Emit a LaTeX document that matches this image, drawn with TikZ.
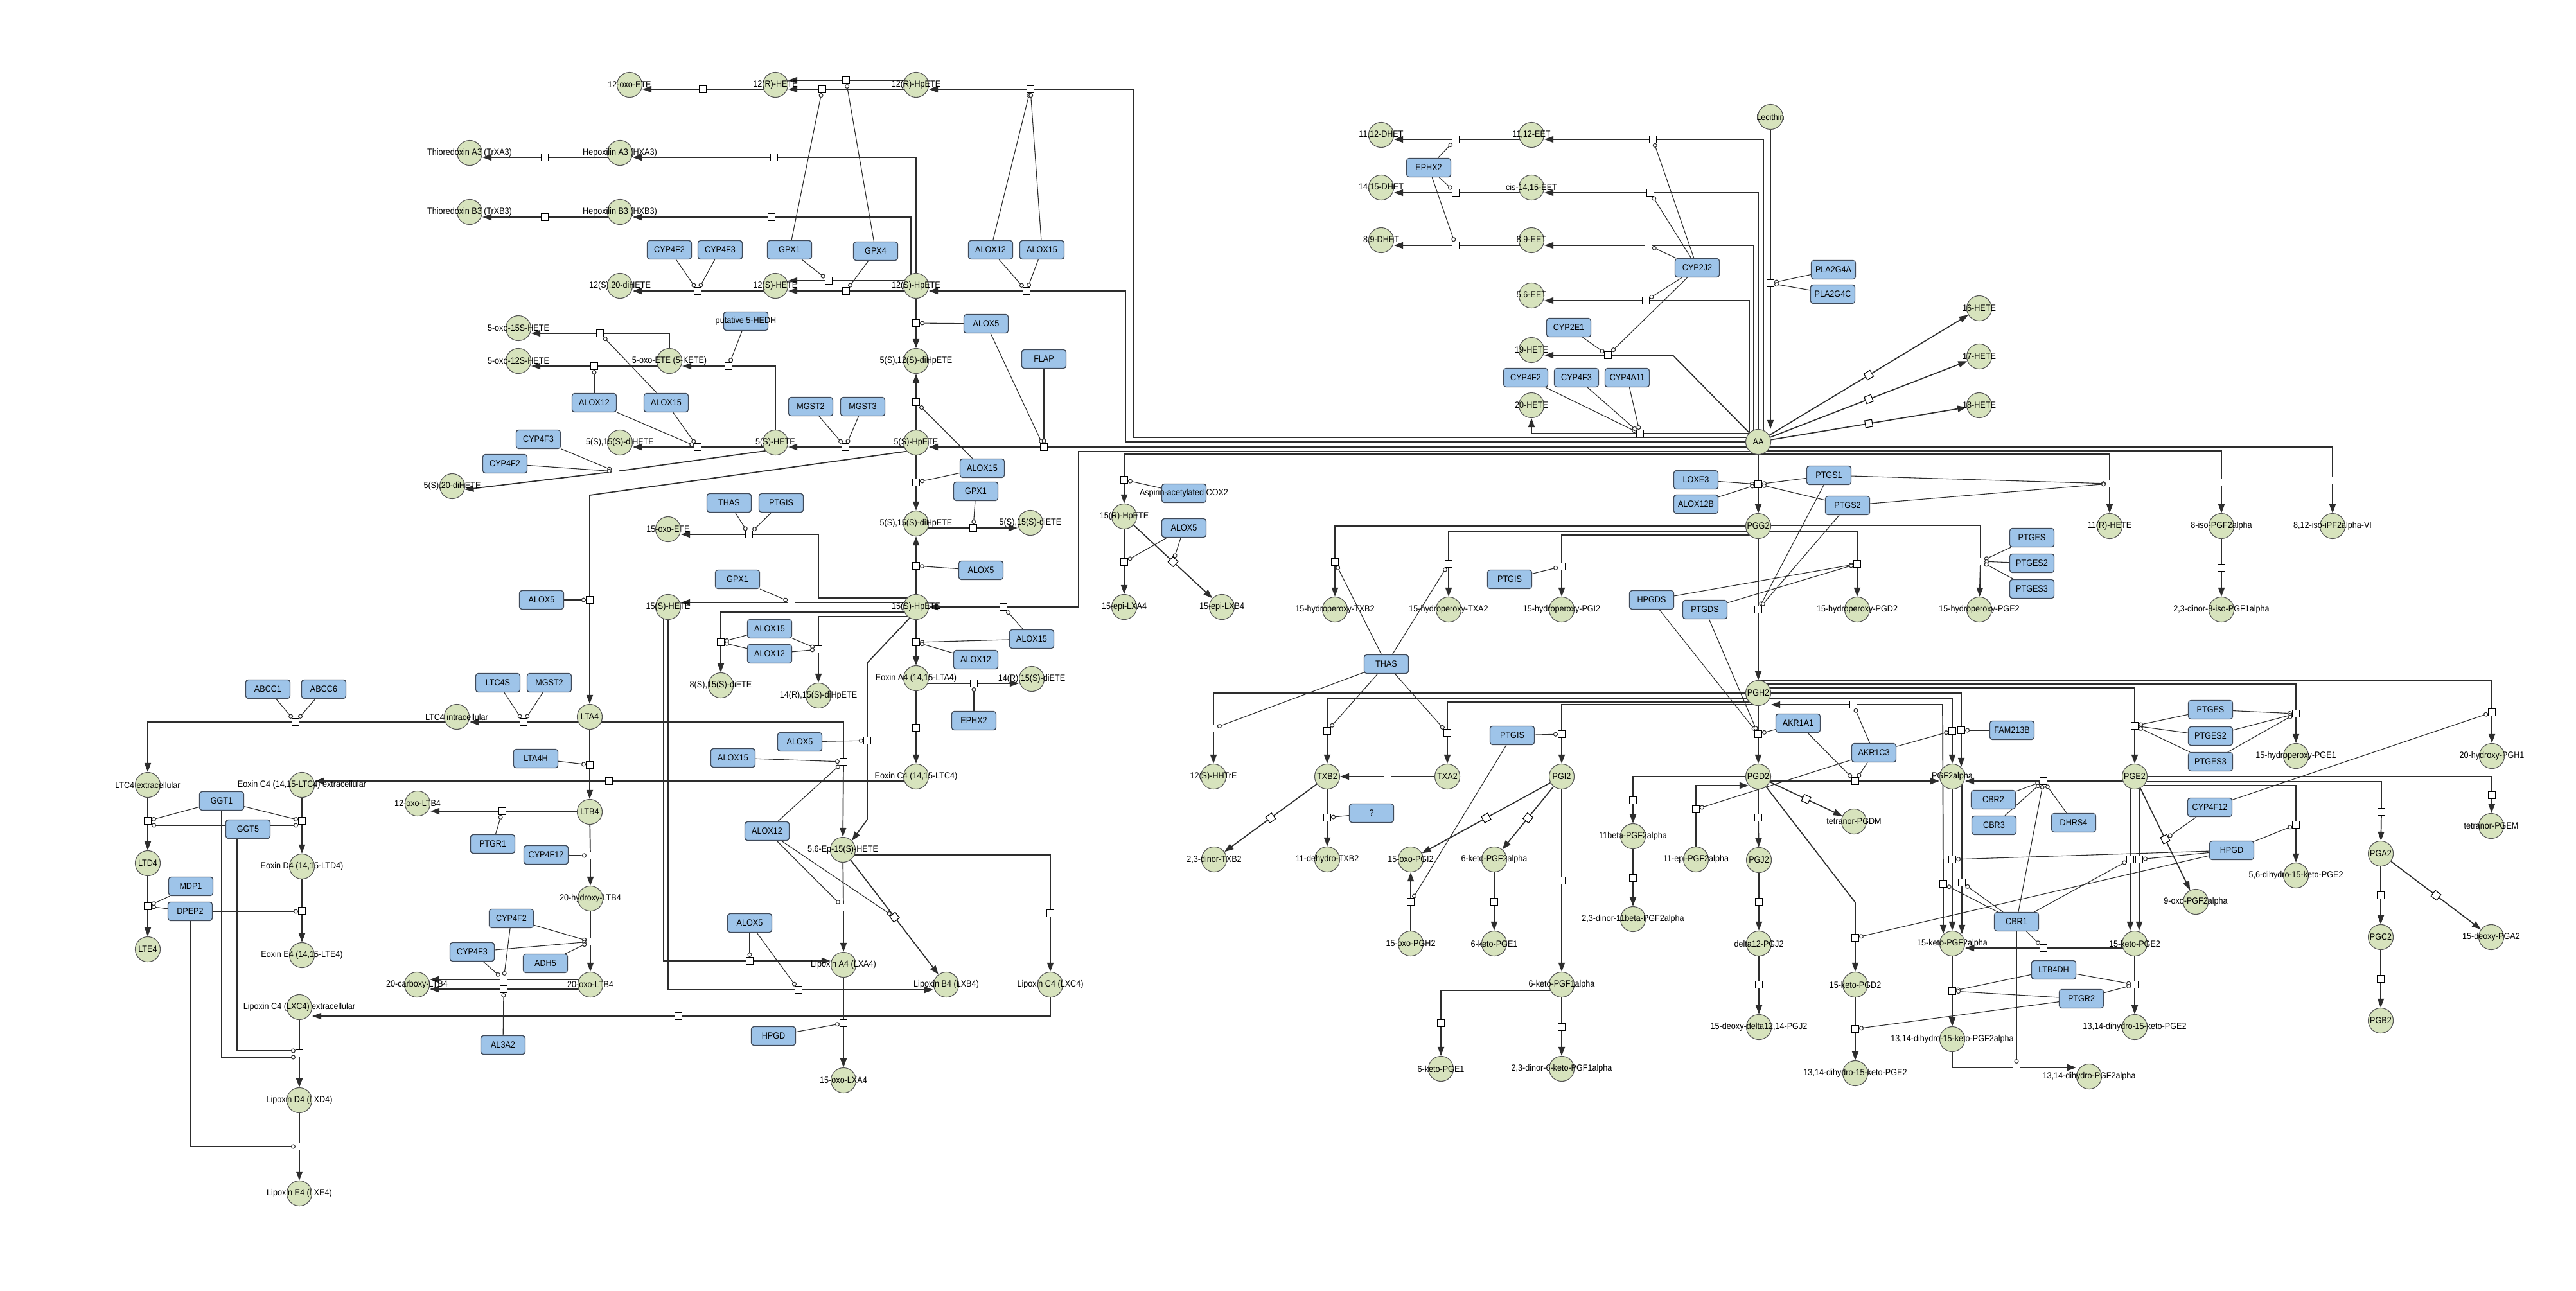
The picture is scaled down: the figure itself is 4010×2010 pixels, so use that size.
\documentclass[tikz,border=0pt]{standalone}
\usepackage{fontspec}
\setmainfont[FakeStretch=0.9]{Liberation Sans}
\usetikzlibrary{arrows.meta,backgrounds}
\pgfdeclarelayer{fg}
\pgfsetlayers{background,main,fg}

\definecolor{metfill}{RGB}{215,227,189}
\definecolor{metline}{RGB}{85,85,85}
\definecolor{enzfill}{RGB}{158,196,233}
\definecolor{enzline}{RGB}{65,75,90}
\definecolor{wire}{RGB}{45,45,45}

\tikzset{
  met/.style={circle, draw=metline, line width=1.1pt, fill=metfill, minimum size=39pt, inner sep=0pt},
  enz/.style={rectangle, rounded corners=4pt, draw=enzline, line width=1.3pt, fill=enzfill, minimum width=69pt, minimum height=29pt, inner sep=0pt},
  lab/.style={inner sep=0pt, font=\fontsize{14}{16}\selectfont, text=black},
  sq/.style={rectangle, draw=black, line width=1.1pt, fill=white, minimum size=11pt, inner sep=0pt},
  rx/.style={draw=wire, line width=1.7pt},
  ra/.style={rx, -{Triangle[length=14pt,width=10pt]}},
  rlong/.style={ra, shorten >=-5pt},
  mod/.style={draw=wire, line width=1.1pt, -{Circle[length=7pt,fill=white]}},
}

% metabolite: circle with its name laid over it
\newcommand\Met[4]{\node[met] (#1) at (#2,#3) {};\begin{pgfonlayer}{fg}\node[lab] at (#2,#3) {#4};\end{pgfonlayer}}
% enzyme: rounded box with its name laid over it
\newcommand\Enz[4]{\node[enz] (#1) at (#2,#3) {};\begin{pgfonlayer}{fg}\node[lab] at (#2,#3) {#4};\end{pgfonlayer}}
% reaction square
\newcommand\Sq[3]{\node[sq] (#1) at (#2,#3) {};}
% modifier link from an enzyme to a reaction
\newcommand\Md[2]{\draw[mod] (#1) -- (#2);}

\begin{document}
\begin{tikzpicture}[x=1pt,y=-1pt]
\begin{pgfonlayer}{background}
\fill[white] (0,0) rectangle (4010,2010);
\end{pgfonlayer}
\useasboundingbox (0,0) rectangle (4010,2010);

% ---------------- metabolites: lipoxygenase side
\Met{m12oxo}{980}{132}{12-oxo-ETE}
\Met{m12rhete}{1207}{132}{12(R)-HETE}
\Met{m12rhpete}{1426}{132}{12(R)-HpETE}
\Met{mtrxa3}{731}{238}{Thioredoxin A3 (TrXA3)}
\Met{mhxa3}{965}{238}{Hepoxilin A3 (HXA3)}
\Met{mtrxb3}{731}{330}{Thioredoxin B3 (TrXB3)}
\Met{mhxb3}{965}{330}{Hepoxilin B3 (HXB3)}
\Met{m1220di}{965}{445}{12(S),20-diHETE}
\Met{m12shete}{1207}{445}{12(S)-HETE}
\Met{m12shpete}{1426}{445}{12(S)-HpETE}
\Met{m5oxo15}{807}{511}{5-oxo-15S-HETE}
\Met{m5oxo12}{807}{562}{5-oxo-12S-HETE}
\Met{m5oxoete}{1042}{562}{5-oxo-ETE (5-KETE)}
\Met{m512dihp}{1426}{562}{5(S),12(S)-diHpETE}
\Met{m515dihete}{965}{689}{5(S),15(S)-diHETE}
\Met{m5shete}{1207}{689}{5(S)-HETE}
\Met{m5shpete}{1426}{689}{5(S)-HpETE}
\Met{m520di}{704}{757}{5(S),20-diHETE}
\Met{m15oxoete}{1040}{824}{15-oxo-ETE}
\Met{m515dihp}{1426}{815}{5(S),15(S)-diHpETE}
\Met{m515diete}{1604}{814}{5(S),15(S)-diETE}
\Met{m15shete}{1040}{945}{15(S)-HETE}
\Met{m15shpete}{1426}{945}{15(S)-HpETE}
\Met{m815}{1122}{1067}{8(S),15(S)-diETE}
\Met{m1415dihp}{1274}{1083}{14(R),15(S)-diHpETE}
\Met{meoxa4}{1426}{1056}{Eoxin A4 (14,15-LTA4)}
\Met{m1415diete}{1606}{1057}{14(R),15(S)-diETE}
\Met{mltc4i}{711}{1116}{LTC4 intracellular}
\Met{mlta4}{918}{1116}{LTA4}
\Met{meoxc4}{1426}{1209}{Eoxin C4 (14,15-LTC4)}
\Met{mltb4}{918}{1264}{LTB4}
\Met{m12oxoltb4}{650}{1251}{12-oxo-LTB4}
\Met{mltc4e}{230}{1222}{LTC4 extracellular}
\Met{meoxc4e}{470}{1222}{Eoxin C4 (14,15-LTC4) extracellular}
\Met{mltd4}{230}{1344}{LTD4}
\Met{mlte4}{230}{1478}{LTE4}
\Met{meoxd4}{470}{1349}{Eoxin D4 (14,15-LTD4)}
\Met{meoxe4}{470}{1487}{Eoxin E4 (14,15-LTE4)}
\Met{mlxc4e}{466}{1568}{Lipoxin C4 (LXC4) extracellular}
\Met{mlxd4}{466}{1713}{Lipoxin D4 (LXD4)}
\Met{mlxe4}{466}{1858}{Lipoxin E4 (LXE4)}
\Met{m20ohltb4}{919}{1399}{20-hydroxy-LTB4}
\Met{m20oxoltb4}{919}{1533}{20-oxo-LTB4}
\Met{m20coltb4}{649}{1533}{20-carboxy-LTB4}
\Met{m56ep}{1312}{1323}{5,6-Ep-15(S)-HETE}
\Met{mlxa4}{1313}{1502}{Lipoxin A4 (LXA4)}
\Met{mlxb4}{1473}{1533}{Lipoxin B4 (LXB4)}
\Met{mlxc4}{1635}{1533}{Lipoxin C4 (LXC4)}
\Met{m15oxolxa4}{1313}{1682}{15-oxo-LXA4}
\Met{m15rhpete}{1750}{804}{15(R)-HpETE}
\Met{m15epilxa4}{1750}{945}{15-epi-LXA4}
\Met{m15epilxb4}{1902}{945}{15-epi-LXB4}

% ---------------- metabolites: cytochrome P450 and cyclooxygenase side
\Met{m1112dhet}{2150}{210}{11,12-DHET}
\Met{m1415dhet}{2150}{292}{14,15-DHET}
\Met{m89dhet}{2150}{374}{8,9-DHET}
\Met{m1112eet}{2384}{210}{11,12-EET}
\Met{m1415eet}{2384}{292}{cis-14,15-EET}
\Met{m89eet}{2384}{374}{8,9-EET}
\Met{m56eet}{2384}{460}{5,6-EET}
\Met{m19hete}{2384}{545}{19-HETE}
\Met{m20hete}{2384}{631}{20-HETE}
\Met{mlec}{2756}{182}{Lecithin}
\Met{maa}{2737}{688}{AA}
\Met{m16hete}{3081}{480}{16-HETE}
\Met{m17hete}{3081}{555}{17-HETE}
\Met{m18hete}{3081}{631}{18-HETE}
\Met{m11rhete}{3284}{819}{11(R)-HETE}
\Met{m8isopgf}{3458}{819}{8-iso-PGF2alpha}
\Met{m812iso}{3631}{819}{8,12-iso-iPF2alpha-VI}
\Met{m23dinor8iso}{3458}{949}{2,3-dinor-8-iso-PGF1alpha}
\Met{mpgg2}{2737}{819}{PGG2}
\Met{mhptxb2}{2078}{949}{15-hydroperoxy-TXB2}
\Met{mhptxa2}{2255}{949}{15-hydroperoxy-TXA2}
\Met{mhppgi2}{2431}{949}{15-hydroperoxy-PGI2}
\Met{mhppgd2}{2891}{949}{15-hydroperoxy-PGD2}
\Met{mhppge2}{3081}{949}{15-hydroperoxy-PGE2}
\Met{mpgh2}{2737}{1079}{PGH2}
\Met{m12hhtre}{1889}{1209}{12(S)-HHTrE}
\Met{mtxb2}{2066}{1209}{TXB2}
\Met{mtxa2}{2253}{1209}{TXA2}
\Met{mpgi2}{2431}{1209}{PGI2}
\Met{mpgd2}{2737}{1209}{PGD2}
\Met{mpgf2a}{3039}{1209}{PGF2alpha}
\Met{mpge2}{3323}{1209}{PGE2}
\Met{mhppge1}{3574}{1177}{15-hydroperoxy-PGE1}
\Met{m20ohpgh1}{3879}{1177}{20-hydroxy-PGH1}
\Met{mtetpgdm}{2886}{1279}{tetranor-PGDM}
\Met{mtetpgem}{3878}{1286}{tetranor-PGEM}
\Met{m23dinortxb2}{1890}{1338}{2,3-dinor-TXB2}
\Met{m11dhtxb2}{2066}{1338}{11-dehydro-TXB2}
\Met{m15oxopgi2}{2196}{1338}{15-oxo-PGI2}
\Met{m6kpgf2a}{2326}{1338}{6-keto-PGF2alpha}
\Met{m15oxopgh2}{2196}{1469}{15-oxo-PGH2}
\Met{m6kpge1a}{2326}{1469}{6-keto-PGE1}
\Met{m6kpgf1a}{2431}{1533}{6-keto-PGF1alpha}
\Met{m6kpge1b}{2243}{1664}{6-keto-PGE1}
\Met{m23d6k}{2431}{1664}{2,3-dinor-6-keto-PGF1alpha}
\Met{m11bpgf}{2542}{1302}{11beta-PGF2alpha}
\Met{m23d11b}{2542}{1431}{2,3-dinor-11beta-PGF2alpha}
\Met{m11epi}{2640}{1338}{11-epi-PGF2alpha}
\Met{mpgj2}{2738}{1339}{PGJ2}
\Met{md12pgj2}{2738}{1469}{delta12-PGJ2}
\Met{m15ddpgj2}{2738}{1599}{15-deoxy-delta12,14-PGJ2}
\Met{m15kpgd2}{2888}{1533}{15-keto-PGD2}
\Met{m1314pge2a}{2888}{1671}{13,14-dihydro-15-keto-PGE2}
\Met{m15kpgf2a}{3039}{1469}{15-keto-PGF2alpha}
\Met{m15kpge2}{3323}{1469}{15-keto-PGE2}
\Met{m1314kpgf}{3039}{1618}{13,14-dihydro-15-keto-PGF2alpha}
\Met{m1314pge2b}{3323}{1599}{13,14-dihydro-15-keto-PGE2}
\Met{m1314pgf}{3252}{1676}{13,14-dihydro-PGF2alpha}
\Met{m9oxo}{3418}{1404}{9-oxo-PGF2alpha}
\Met{m56dh}{3574}{1363}{5,6-dihydro-15-keto-PGE2}
\Met{mpga2}{3706}{1329}{PGA2}
\Met{mpgc2}{3706}{1459}{PGC2}
\Met{mpgb2}{3706}{1589}{PGB2}
\Met{m15dpga2}{3878}{1459}{15-deoxy-PGA2}

% ---------------- enzymes
\Enz{ecyp4f2a}{1042}{389}{CYP4F2}
\Enz{ecyp4f3a}{1121}{389}{CYP4F3}
\Enz{egpx1a}{1229}{389}{GPX1}
\Enz{egpx4}{1363}{391}{GPX4}
\Enz{ealox12a}{1542}{389}{ALOX12}
\Enz{ealox15a}{1622}{389}{ALOX15}
\Enz{ehedh}{1161}{500}{putative 5-HEDH}
\Enz{ealox12b}{925}{627}{ALOX12}
\Enz{ealox15b}{1037}{627}{ALOX15}
\Enz{emgst2a}{1262}{633}{MGST2}
\Enz{emgst3}{1343}{633}{MGST3}
\Enz{ealox5a}{1535}{504}{ALOX5}
\Enz{eflap}{1625}{559}{FLAP}
\Enz{ecyp4f3b}{838}{684}{CYP4F3}
\Enz{ecyp4f2b}{786}{722}{CYP4F2}
\Enz{ethasa}{1135}{783}{THAS}
\Enz{eptgisa}{1216}{783}{PTGIS}
\Enz{egpx1b}{1148}{902}{GPX1}
\Enz{ealox5b}{843}{934}{ALOX5}
\Enz{ealox15c}{1198}{979}{ALOX15}
\Enz{ealox12c}{1198}{1018}{ALOX12}
\Enz{eltc4s}{775}{1063}{LTC4S}
\Enz{emgst2b}{855}{1063}{MGST2}
\Enz{ealox5c}{1245}{1155}{ALOX5}
\Enz{ealox15d}{1141}{1180}{ALOX15}
\Enz{elta4h}{834}{1181}{LTA4H}
\Enz{ealox15e}{1529}{729}{ALOX15}
\Enz{egpx1c}{1519}{765}{GPX1}
\Enz{ealox5d}{1527}{888}{ALOX5}
\Enz{ealox15f}{1606}{995}{ALOX15}
\Enz{ealox12d}{1519}{1027}{ALOX12}
\Enz{eephx2b}{1516}{1122}{EPHX2}
\Enz{easp}{1843}{768}{Aspirin-acetylated COX2}
\Enz{ealox5e}{1843}{822}{ALOX5}
\Enz{eabcc1}{417}{1073}{ABCC1}
\Enz{eabcc6}{504}{1073}{ABCC6}
\Enz{eggt1}{345}{1247}{GGT1}
\Enz{eggt5}{386}{1291}{GGT5}
\Enz{emdp1}{297}{1380}{MDP1}
\Enz{edpep2}{296}{1419}{DPEP2}
\Enz{eptgr1}{767}{1314}{PTGR1}
\Enz{ecyp4f12a}{850}{1331}{CYP4F12}
\Enz{ecyp4f2c}{796}{1430}{CYP4F2}
\Enz{ecyp4f3c}{735}{1482}{CYP4F3}
\Enz{eadh5}{849}{1500}{ADH5}
\Enz{eal3a2}{783}{1627}{AL3A2}
\Enz{ealox12e}{1194}{1294}{ALOX12}
\Enz{ealox5f}{1167}{1437}{ALOX5}
\Enz{ehpgda}{1204}{1613}{HPGD}
\Enz{eephx2a}{2224}{261}{EPHX2}
\Enz{ecyp2j2}{2642}{417}{CYP2J2}
\Enz{epla2g4a}{2854}{420}{PLA2G4A}
\Enz{epla2g4c}{2853}{458}{PLA2G4C}
\Enz{ecyp2e1}{2442}{510}{CYP2E1}
\Enz{ecyp4f2d}{2375}{588}{CYP4F2}
\Enz{ecyp4f3d}{2454}{588}{CYP4F3}
\Enz{ecyp4a11}{2533}{588}{CYP4A11}
\Enz{eloxe3}{2640}{747}{LOXE3}
\Enz{ealox12bb}{2640}{785}{ALOX12B}
\Enz{eptgs1}{2847}{740}{PTGS1}
\Enz{eptgs2}{2876}{787}{PTGS2}
\Enz{eptgisb}{2350}{902}{PTGIS}
\Enz{ehpgds}{2571}{934}{HPGDS}
\Enz{eptgds}{2654}{949}{PTGDS}
\Enz{eptgesa}{3163}{837}{PTGES}
\Enz{eptges2a}{3163}{877}{PTGES2}
\Enz{eptges3a}{3163}{917}{PTGES3}
\Enz{ethasb}{2158}{1034}{THAS}
\Enz{equest}{2135}{1266}{?}
\Enz{eptgisc}{2354}{1145}{PTGIS}
\Enz{eakr1a1}{2799}{1126}{AKR1A1}
\Enz{eakr1c3}{2917}{1172}{AKR1C3}
\Enz{efam}{3132}{1137}{FAM213B}
\Enz{eptgesb}{3441}{1105}{PTGES}
\Enz{eptges2b}{3441}{1146}{PTGES2}
\Enz{eptges3b}{3441}{1186}{PTGES3}
\Enz{ecbr2}{3103}{1245}{CBR2}
\Enz{ecbr3}{3104}{1285}{CBR3}
\Enz{edhrs4}{3228}{1281}{DHRS4}
\Enz{ecyp4f12b}{3440}{1257}{CYP4F12}
\Enz{ehpgdb}{3474}{1324}{HPGD}
\Enz{ecbr1}{3139}{1435}{CBR1}
\Enz{eltb4dh}{3197}{1510}{LTB4DH}
\Enz{eptgr2}{3240}{1555}{PTGR2}

% ---------------- reaction squares
\Sq{s12ra}{1317}{125} \Sq{s12rb}{1280}{139} \Sq{s12oxo}{1094}{139} \Sq{s12rh}{1604}{139}
\Sq{s12sh}{1598}{453} \Sq{s12sa}{1290}{437} \Sq{s12sb}{1317}{453} \Sq{s1220}{1086}{453}
\Sq{shxa3}{1205}{245} \Sq{strxa3}{848}{245} \Sq{shxb3}{1201}{338} \Sq{strxb3}{848}{338}
\Sq{s512a}{1426}{503} \Sq{s512b}{1426}{626} \Sq{s515a}{1426}{751} \Sq{s515b}{1426}{881}
\Sq{s515c}{1515}{822} \Sq{s5hp}{1625}{696} \Sq{s5h}{1316}{696} \Sq{s515h}{1086}{696}
\Sq{s5oxo}{1134}{570} \Sq{s5oxo12}{925}{570} \Sq{s5oxo15}{934}{519} \Sq{s520}{958}{734}
\Sq{slta4}{918}{934} \Sq{sltc4}{815}{1124} \Sq{sabc}{460}{1124} \Sq{sltb4}{918}{1191}
\Sq{s12oxoltb4}{782}{1263} \Sq{s20oh}{919}{1332} \Sq{s20oxo}{919}{1466}
\Sq{s20coa}{784}{1525} \Sq{s20cob}{784}{1540}
\Sq{sltd4}{230}{1278} \Sq{slte4}{230}{1411} \Sq{seoxd4}{470}{1278} \Sq{seoxe4}{470}{1418}
\Sq{slxd4}{466}{1640} \Sq{slxe4}{466}{1785} \Sq{seoxc4e}{948}{1216} \Sq{slxc4e}{1056}{1582}
\Sq{seoxa4}{1426}{1000} \Sq{s15hp}{1562}{945} \Sq{seoxc4}{1426}{1133} \Sq{s1415}{1516}{1064}
\Sq{s15h}{1232}{938} \Sq{s15oxo}{1166}{832} \Sq{s815}{1122}{1000} \Sq{s1415h}{1274}{1011}
\Sq{s56a}{1350}{1153} \Sq{s56b}{1313}{1186} \Sq{slxa4}{1313}{1413} \Sq{slxc4}{1635}{1422}
\Sq{slxa4b}{1167}{1496} \Sq{slxb4b}{1243}{1541} \Sq{s15oxolxa4}{1313}{1593}
\Sq{s15r}{1750}{747} \Sq{s15epia}{1750}{875}
\Sq{sdhet1}{2266}{217} \Sq{sdhet2}{2266}{300} \Sq{sdhet3}{2266}{382}
\Sq{seet1}{2573}{217} \Sq{seet2}{2569}{300} \Sq{seet3}{2566}{382} \Sq{seet4}{2562}{468}
\Sq{s19}{2503}{553} \Sq{s20h}{2553}{675} \Sq{slec}{2756}{441} \Sq{spgg2}{2737}{754}
\Sq{s11r}{3284}{753} \Sq{s8iso}{3458}{751} \Sq{s812}{3631}{748} \Sq{s23d8}{3458}{884}
\Sq{spgh2}{2737}{949} \Sq{shptxb2}{2078}{875} \Sq{shptxa2}{2255}{878} \Sq{shppgi2}{2431}{882}
\Sq{shppgd2}{2891}{878} \Sq{shppge2}{3083}{874}
\Sq{s12hht}{1889}{1134} \Sq{stxb2}{2066}{1138} \Sq{stxa2}{2253}{1141} \Sq{spgi2}{2431}{1143}
\Sq{spgd2}{2737}{1143} \Sq{stxab}{2160}{1209} \Sq{s11dh}{2066}{1273}
\Sq{s15oxoh}{2196}{1404} \Sq{s6kpge}{2326}{1404} \Sq{s6kpgf1}{2431}{1371}
\Sq{s6kpge1b}{2243}{1593} \Sq{s23d6k}{2431}{1599} \Sq{s11b}{2542}{1246} \Sq{s23d11b}{2542}{1367}
\Sq{s11epi}{2640}{1260} \Sq{spgj2}{2737}{1273} \Sq{sd12}{2738}{1404} \Sq{s15dd}{2738}{1533}
\Sq{s15kpgd2}{2888}{1460} \Sq{s1314a}{2888}{1602}
\Sq{spgfa}{3053}{1137} \Sq{spgfb}{3039}{1138} \Sq{sakrh}{2885}{1097}
\Sq{s15kfa}{3025}{1376} \Sq{s15kfb}{3039}{1338} \Sq{s15kfc}{3054}{1374}
\Sq{spgdf}{2888}{1216} \Sq{spgef}{3181}{1216}
\Sq{spge2}{3323}{1130} \Sq{shppge1}{3574}{1111} \Sq{s20pgh1}{3879}{1109}
\Sq{s15kea}{3316}{1338} \Sq{s15keb}{3330}{1338} \Sq{s56dh}{3574}{1284}
\Sq{spga2}{3707}{1264} \Sq{stetem}{3879}{1238} \Sq{spgc2}{3706}{1394} \Sq{spgb2}{3706}{1524}
\Sq{s15kef}{3181}{1476} \Sq{s1314b}{3323}{1533} \Sq{s1314f}{3039}{1543} \Sq{s1314p}{3139}{1662}

% squares set along slanted reactions
\path (m56ep) -- node[sq,sloped] (dlxb4) {} (mlxb4);
\path (m15rhpete) -- node[sq,sloped] (d15epib) {} (m15epilxb4);
\path (maa) -- node[sq,sloped] (d16) {} (m16hete);
\path (maa) -- node[sq,sloped] (d17) {} (m17hete);
\path (maa) -- node[sq,sloped] (d18) {} (m18hete);
\path (mtxb2) -- node[sq,sloped] (d23txb2) {} (m23dinortxb2);
\path (mpgi2) -- node[sq,sloped] (d15oxopgi2) {} (m15oxopgi2);
\path (mpgi2) -- node[sq,sloped] (d6kpgf) {} (m6kpgf2a);
\path (mpgd2) -- node[sq,sloped] (dtet) {} (mtetpgdm);
\path (mpge2) -- node[sq,sloped] (d9oxo) {} (m9oxo);
\path (mpga2) -- node[sq,sloped] (d15dpga2) {} (m15dpga2);

% bend points of routed reactions
\coordinate (c3) at (1764,681);   \coordinate (c4) at (1752,688);
\coordinate (c23) at (918,771);   \coordinate (c40) at (1679,703);
\coordinate (c44) at (1274,931);  \coordinate (c45) at (1122,953);
\coordinate (c46) at (1274,960);  \coordinate (c47a) at (1350,1032);
\coordinate (c47b) at (1350,1276); \coordinate (c48) at (1313,1124);
\coordinate (c55) at (1750,707);  \coordinate (c65) at (2604,553);
\coordinate (c72) at (3284,707);  \coordinate (c73) at (3458,702);
\coordinate (c74) at (3631,696);  \coordinate (c77) at (2078,819);
\coordinate (c78) at (2255,828);  \coordinate (c79) at (2431,833);
\coordinate (c80) at (2891,827);  \coordinate (c81) at (3083,818);
\coordinate (c82) at (1889,1079); \coordinate (c83) at (2066,1087);
\coordinate (c84) at (2253,1093); \coordinate (c85) at (2431,1097);
\coordinate (c99) at (2640,1223); \coordinate (c104) at (2888,1405);
\coordinate (c106a) at (3053,1079); \coordinate (c106b) at (3039,1087);
\coordinate (c107) at (3024,1097); \coordinate (c112) at (3323,1071);
\coordinate (c113) at (3574,1065); \coordinate (c114) at (3879,1060);
\coordinate (c117) at (3574,1223); \coordinate (c118) at (3707,1217);
\coordinate (c119) at (3879,1209);

\begin{pgfonlayer}{background}
% ---- 12-lipoxygenase branch
\draw[ra] (s12ra -| m12rhpete) -- (s12ra) -- (s12ra -| m12rhete.east);
\draw[ra] (s12rb -| m12rhpete) -- (s12rb) -- (s12rb -| m12rhete.east);
\draw[ra] (s12oxo -| m12rhete) -- (s12oxo) -- (s12oxo -| m12oxo.east);
\draw[ra] (c3 -| maa) -- (c3) |- (s12rh) -- (s12rh -| m12rhpete.east);
\draw[ra] (c4 -| maa) -- (c4) |- (s12sh) -- (s12sh -| m12shpete.east);
\draw[ra] (s12sa -| m12shpete) -- (s12sa) -- (s12sa -| m12shete.east);
\draw[ra] (s12sb -| m12shpete) -- (s12sb) -- (s12sb -| m12shete.east);
\draw[ra] (s1220 -| m12shete) -- (s1220) -- (s1220 -| m1220di.east);
\draw[ra] (m12shpete) |- (shxa3) -- (shxa3 -| mhxa3.east);
\draw[ra] (strxa3 -| mhxa3) -- (strxa3) -- (strxa3 -| mtrxa3.east);
\draw[ra] ([xshift=-8]m12shpete.center) |- (shxb3) -- (shxb3 -| mhxb3.east);
\draw[ra] (strxb3 -| mhxb3) -- (strxb3) -- (strxb3 -| mtrxb3.east);
\draw[ra] (m12shpete) -- (s512a) -- (m512dihp);
% ---- 5-lipoxygenase branch
\draw[ra] (m5shpete) -- (s512b) -- (m512dihp);
\draw[ra] (m5shpete) -- (s515a) -- (m515dihp);
\draw[ra] (m15shpete) -- (s515b) -- (m515dihp);
\draw[ra] (s515c -| m515dihp) -- (s515c) -- (s515c -| m515diete.west);
\draw[ra] (s5hp -| maa) -- (s5hp) -- (s5hp -| m5shpete.east);
\draw[ra] (s5h -| m5shpete) -- (s5h) -- (s5h -| m5shete.east);
\draw[ra] (s515h -| m5shete) -- (s515h) -- (s515h -| m515dihete.east);
\draw[ra] (m5shete) |- (s5oxo) -- (s5oxo -| m5oxoete.east);
\draw[ra] (s5oxo12 -| m5oxoete) -- (s5oxo12) -- (s5oxo12 -| m5oxo12.east);
\draw[ra] (m5oxoete) |- (s5oxo15) -- (s5oxo15 -| m5oxo15.east);
\draw[ra] (m5shete.220) -- (s520) -- (m520di.345);
\draw[ra] (m5shpete.223) -- (c23) -- (slta4) -- (mlta4);
% ---- leukotrienes
\draw[ra] (sltc4 -| mlta4) -- (sltc4) -- (sltc4 -| mltc4i.east);
\draw[ra] (sabc -| mltc4i) -- (sabc) -| (mltc4e);
\draw[ra] (mlta4) -- (sltb4) -- (mltb4);
\draw[ra] (s12oxoltb4 -| mltb4) -- (s12oxoltb4) -- (s12oxoltb4 -| m12oxoltb4.east);
\draw[ra] (mltb4) -- (s20oh) -- (m20ohltb4);
\draw[ra] (m20ohltb4) -- (s20oxo) -- (m20oxoltb4);
\draw[ra] (s20coa -| m20oxoltb4) -- (s20coa) -- (s20coa -| m20coltb4.east);
\draw[ra] (s20cob -| m20oxoltb4) -- (s20cob) -- (s20cob -| m20coltb4.east);
\draw[ra] (mltc4e) -- (sltd4) -- (mltd4);
\draw[ra] (mltd4) -- (slte4) -- (mlte4);
\draw[ra] (meoxc4e) -- (seoxd4) -- (meoxd4);
\draw[ra] (meoxd4) -- (seoxe4) -- (meoxe4);
\draw[ra] (mlxc4e) -- (slxd4) -- (mlxd4);
\draw[ra] (mlxd4) -- (slxe4) -- (mlxe4);
\draw[ra] (seoxc4e -| meoxc4) -- (seoxc4e) -- (seoxc4e -| meoxc4e.east);
\draw[ra] (mlxc4) |- (slxc4e) -- (slxc4e -| mlxc4e.east);
% ---- 15-lipoxygenase branch
\draw[ra] (m15shpete) -- (seoxa4) -- (meoxa4);
\draw[ra] (c40 -| maa) -- (c40) |- (s15hp) -- (s15hp -| m15shpete.east);
\draw[ra] (meoxa4) -- (seoxc4) -- (meoxc4);
\draw[ra] (s1415 -| meoxa4) -- (s1415) -- (s1415 -| m1415diete.west);
\draw[ra] (s15h -| m15shpete) -- (s15h) -- (s15h -| m15shete.east);
\draw[ra] (c44 -| m15shpete) -- (c44) |- (s15oxo) -- (s15oxo -| m15oxoete.east);
\draw[ra] (c45 -| m15shpete) -- (c45) -- (s815) -- (m815);
\draw[ra] (c46 -| m15shpete) -- (c46) -- (s1415h) -- (m1415dihp);
\draw[ra] (m15shpete.240) -- (c47a) -- (s56a) -- (c47b) -- (m56ep.45);
\draw[ra] (c48 -| mlta4) -- (c48) -- (s56b) -- (m56ep);
\draw[ra] (m56ep) -- (slxa4) -- (mlxa4);
\draw[ra] (m56ep) -- (dlxb4) -- (mlxb4);
\draw[ra] ([yshift=-8]m56ep.center) -| (slxc4) -- (mlxc4);
\draw[ra] ([xshift=-7]m15shete.center) |- (slxa4b) -- (slxa4b -| mlxa4.west);
\draw[ra] (m15shete) |- (slxb4b) -- (slxb4b -| mlxb4.west);
\draw[ra] (mlxa4) -- (s15oxolxa4) -- (m15oxolxa4);
\draw[ra] (c55 -| maa) -- (c55) -- (s15r) -- (m15rhpete);
\draw[ra] (m15rhpete) -- (s15epia) -- (m15epilxa4);
\draw[ra] (m15rhpete) -- (d15epib) -- (m15epilxb4);
% ---- epoxygenase and omega-hydroxylase branch
\draw[ra] (sdhet1 -| m1112eet) -- (sdhet1) -- (sdhet1 -| m1112dhet.east);
\draw[ra] (sdhet2 -| m1415eet) -- (sdhet2) -- (sdhet2 -| m1415dhet.east);
\draw[ra] (sdhet3 -| m89eet) -- (sdhet3) -- (sdhet3 -| m89dhet.east);
\draw[ra] ([xshift=8]maa.center) |- (seet1) -- (seet1 -| m1112eet.east);
\draw[ra] (maa.center) |- (seet2) -- (seet2 -| m1415eet.east);
\draw[ra] ([xshift=-7]maa.center) |- (seet3) -- (seet3 -| m89eet.east);
\draw[ra] ([xshift=-14]maa.center) |- (seet4) -- (seet4 -| m56eet.east);
\draw[ra] (maa) -- (c65) -- (s19) -- (s19 -| m19hete.east);
\draw[ra] (s20h -| maa) -- (s20h) -| (m20hete);
\draw[ra] (mlec) -- (slec) -- (slec |- maa.north);
\draw[ra] (maa) -- (d16) -- (m16hete);
\draw[ra] (maa) -- (d17) -- (m17hete);
\draw[ra] (maa) -- (d18) -- (m18hete);
% ---- cyclooxygenase branch
\draw[ra] (maa) -- (spgg2) -- (mpgg2);
\draw[ra] (c72 -| maa) -- (c72) -- (s11r) -- (m11rhete);
\draw[ra] (c73 -| maa) -- (c73) -- (s8iso) -- (m8isopgf);
\draw[ra] (c74 -| maa) -- (c74) -- (s812) -- (m812iso);
\draw[ra] (m8isopgf) -- (s23d8) -- (m23dinor8iso);
\draw[ra] (mpgg2) -- (spgh2) -- (mpgh2);
\draw[ra] (c77 -| mpgg2) -- (c77) -- (shptxb2) -- (mhptxb2);
\draw[ra] (c78 -| mpgg2) -- (c78) -- (shptxa2) -- (mhptxa2);
\draw[ra] (c79 -| mpgg2) -- (c79) -- (shppgi2) -- (mhppgi2);
\draw[ra] (c80 -| mpgg2) -- (c80) -- (shppgd2) -- (mhppgd2);
\draw[ra] (c81 -| mpgg2) -- (c81) -- (shppge2) -- (mhppge2);
\draw[ra] (c82 -| mpgh2) -- (c82) -- (s12hht) -- (m12hhtre);
\draw[ra] (c83 -| mpgh2) -- (c83) -- (stxb2) -- (mtxb2);
\draw[ra] (c84 -| mpgh2) -- (c84) -- (stxa2) -- (mtxa2);
\draw[ra] (c85 -| mpgh2) -- (c85) -- (spgi2) -- (mpgi2);
\draw[ra] (mpgh2) -- (spgd2) -- (mpgd2);
\draw[ra] (mtxa2) -- (stxab) -- (mtxb2);
\draw[ra] (mtxb2) -- (d23txb2) -- (m23dinortxb2);
\draw[ra] (mtxb2) -- (s11dh) -- (m11dhtxb2);
\draw[ra] (mpgi2) -- (d15oxopgi2) -- (m15oxopgi2);
\draw[ra] (mpgi2) -- (d6kpgf) -- (m6kpgf2a);
\draw[ra] (m15oxopgh2) -- (s15oxoh) -- (m15oxopgi2);
\draw[ra] (m6kpgf2a) -- (s6kpge) -- (m6kpge1a);
\draw[ra] (mpgi2) -- (s6kpgf1) -- (m6kpgf1a);
\draw[ra] ([yshift=-9]m6kpgf1a.center) -| (s6kpge1b) -- (m6kpge1b);
\draw[ra] (m6kpgf1a) -- (s23d6k) -- (m23d6k);
\draw[ra] (mpgd2.center) -| (s11b) -- (m11bpgf);
\draw[ra] (m11bpgf) -- (s23d11b) -- (m23d11b);
\draw[rlong] (m11epi) -- (s11epi) -- (c99) -- (c99 -| mpgd2.west);
\draw[ra] (mpgd2) -- (spgj2) -- (mpgj2);
\draw[ra] (mpgj2) -- (sd12) -- (md12pgj2);
\draw[ra] (md12pgj2) -- (s15dd) -- (m15ddpgj2);
\draw[ra] (mpgd2) -- (dtet) -- (mtetpgdm);
\draw[ra] (mpgd2) -- (c104) -- (s15kpgd2) -- (m15kpgd2);
\draw[ra] (m15kpgd2) -- (s1314a) -- (m1314pge2a);
\draw[rlong] (c106a -| mpgh2) -- (c106a) -- (spgfa) -- (spgfa |- mpgf2a.north);
\draw[ra] (c106b -| mpgh2) -- (c106b) -- (spgfb) -- (mpgf2a);
\draw[ra] (s15kfa) -- (c107) -- (sakrh) -- (sakrh -| mpgh2.east);
\draw[rlong] (s15kfa) -- (s15kfa |- m15kpgf2a.north);
\draw[ra] (mpgf2a) -- (s15kfb) -- (m15kpgf2a);
\draw[rlong] ([xshift=15]mpgf2a.center) -- (s15kfc) -- (s15kfc |- m15kpgf2a.north);
\draw[ra] (spgdf -| mpgd2) -- (spgdf) -- (spgdf -| mpgf2a.west);
\draw[ra] (spgef -| mpge2) -- (spgef) -- (spgef -| mpgf2a.east);
\draw[ra] (c112 -| mpgh2) -- (c112) -- (spge2) -- (mpge2);
\draw[ra] (c113 -| mpgh2) -- (c113) -- (shppge1) -- (mhppge1);
\draw[ra] (c114 -| mpgh2) -- (c114) -- (s20pgh1) -- (m20ohpgh1);
\draw[ra] ([xshift=-7]mpge2.center) -- (s15kea) -- (s15kea |- m15kpge2.north);
\draw[ra] ([xshift=7]mpge2.center) -- (s15keb) -- (s15keb |- m15kpge2.north);
\draw[ra] (mpge2) -- (d9oxo) -- (m9oxo);
\draw[ra] (c117 -| mpge2) -- (c117) -- (s56dh) -- (m56dh);
\draw[ra] (c118 -| mpge2) -- (c118) -- (spga2) -- (mpga2);
\draw[ra] (c119 -| mpge2) -- (c119) -- (stetem) -- (mtetpgem);
\draw[ra] (mpga2) -- (spgc2) -- (mpgc2);
\draw[ra] (mpgc2) -- (spgb2) -- (mpgb2);
\draw[ra] (mpga2) -- (d15dpga2) -- (m15dpga2);
\draw[ra] (s15kef -| m15kpge2) -- (s15kef) -- (s15kef -| m15kpgf2a.east);
\draw[ra] (m15kpge2) -- (s1314b) -- (m1314pge2b);
\draw[ra] (m15kpgf2a) -- (s1314f) -- (m1314kpgf);
\draw[ra] (m1314kpgf) |- (s1314p) -- (s1314p -| m1314pgf.west);

% ---- enzyme links
\Md{egpx4}{s12ra} \Md{egpx1a}{s12rb}
\Md{ealox12a}{s12rh} \Md{ealox15a}{s12rh}
\Md{ealox12a}{s12sh} \Md{ealox15a}{s12sh}
\Md{egpx1a}{s12sa} \Md{egpx4}{s12sb}
\Md{ecyp4f2a}{s1220} \Md{ecyp4f3a}{s1220}
\Md{ealox5a}{s512a}
\Md{ealox15e}{s512b} \Md{ealox15e}{s515a}
\Md{ealox5d}{s515b}
\Md{egpx1c}{s515c}
\Md{ealox5a}{s5hp} \Md{eflap}{s5hp}
\Md{emgst2a}{s5h} \Md{emgst3}{s5h}
\Md{ealox12b}{s515h} \Md{ealox15b}{s515h}
\Md{ehedh}{s5oxo}
\Md{ealox12b}{s5oxo12}
\Md{ealox15b}{s5oxo15}
\Md{ecyp4f3b}{s520} \Md{ecyp4f2b}{s520}
\Md{ealox5b}{slta4}
\Md{eltc4s}{sltc4} \Md{emgst2b}{sltc4}
\Md{eabcc1}{sabc} \Md{eabcc6}{sabc}
\Md{elta4h}{sltb4}
\Md{eptgr1}{s12oxoltb4}
\Md{ecyp4f12a}{s20oh}
\Md{ecyp4f2c}{s20oxo} \Md{ecyp4f3c}{s20oxo} \Md{eadh5}{s20oxo}
\Md{ecyp4f3c}{s20coa} \Md{ecyp4f2c}{s20coa}
\Md{eal3a2}{s20cob}
\Md{eggt1}{sltd4} \Md{eggt1}{seoxd4}
\draw[mod] ([yshift=6]eggt5.west) -- ([yshift=6]eggt5.west -| sltd4.east);
\draw[mod] ([yshift=6]eggt5.east) -- ([yshift=6]eggt5.east -| seoxd4.west);
\Md{emdp1}{slte4} \Md{edpep2}{slte4}
\draw[mod] (edpep2) -- (edpep2 -| seoxe4.west);
\draw[mod] (eggt1) |- ([yshift=-6]slxd4.west);
\draw[mod] ([xshift=-17]eggt5.south) |- ([yshift=4]slxd4.west);
\draw[mod] (edpep2) |- (slxe4);
\Md{ealox15f}{seoxa4} \Md{ealox12d}{seoxa4}
\Md{ealox15f}{s15hp}
\Md{eephx2b}{s1415}
\Md{egpx1b}{s15h}
\Md{ethasa}{s15oxo} \Md{eptgisa}{s15oxo}
\Md{ealox15c}{s815} \Md{ealox12c}{s815}
\Md{ealox15c}{s1415h} \Md{ealox12c}{s1415h}
\Md{ealox5c}{s56a}
\Md{ealox15d}{s56b} \Md{ealox12e}{s56b}
\Md{ealox12e}{slxa4} \Md{ealox12e}{dlxb4}
\Md{ealox5f}{slxa4b} \Md{ealox5f}{slxb4b}
\Md{ehpgda}{s15oxolxa4}
\Md{easp}{s15r}
\Md{ealox5e}{s15epia} \Md{ealox5e}{d15epib}
\Md{eephx2a}{sdhet1} \Md{eephx2a}{sdhet2} \Md{eephx2a}{sdhet3}
\Md{ecyp2j2}{seet1} \Md{ecyp2j2}{seet2} \Md{ecyp2j2}{seet3} \Md{ecyp2j2}{seet4} \Md{ecyp2j2}{s19}
\Md{ecyp2e1}{s19}
\Md{ecyp4f2d}{s20h} \Md{ecyp4f3d}{s20h} \Md{ecyp4a11}{s20h}
\Md{epla2g4a}{slec} \Md{epla2g4c}{slec}
\Md{eloxe3}{spgg2} \Md{ealox12bb}{spgg2} \Md{eptgs1}{spgg2} \Md{eptgs2}{spgg2}
\Md{eptgs1}{s11r} \Md{eptgs2}{s11r}
\Md{eptgs1}{spgh2} \Md{eptgs2}{spgh2}
\Md{ethasb}{shptxb2} \Md{ethasb}{shptxa2} \Md{ethasb}{s12hht} \Md{ethasb}{stxb2} \Md{ethasb}{stxa2}
\Md{eptgisb}{shppgi2}
\Md{ehpgds}{shppgd2} \Md{eptgds}{shppgd2}
\Md{eptgesa}{shppge2} \Md{eptges2a}{shppge2} \Md{eptges3a}{shppge2}
\Md{eptgisc}{spgi2} \Md{eptgisc}{s15oxoh}
\Md{ehpgds}{spgd2} \Md{eptgds}{spgd2} \Md{eakr1a1}{spgd2}
\Md{equest}{s11dh}
\Md{eakr1c3}{s11epi}
\Md{ehpgdb}{s15kpgd2}
\Md{eptgr2}{s1314a}
\Md{efam}{spgfa}
\Md{eakr1c3}{spgfb}
\Md{eakr1c3}{sakrh}
\Md{ecbr1}{s15kfa} \Md{ecbr1}{s15kfc}
\Md{ehpgdb}{s15kfb}
\Md{eakr1a1}{spgdf} \Md{eakr1c3}{spgdf}
\Md{ecbr2}{spgef} \Md{ecbr3}{spgef} \Md{edhrs4}{spgef} \Md{ecbr1}{spgef}
\Md{eptgesb}{spge2} \Md{eptges2b}{spge2} \Md{eptges3b}{spge2}
\Md{eptgesb}{shppge1} \Md{eptges2b}{shppge1} \Md{eptges3b}{shppge1}
\Md{ecyp4f12b}{s20pgh1}
\Md{ecbr1}{s15kea} \Md{ehpgdb}{s15keb}
\Md{ecyp4f12b}{d9oxo}
\Md{ehpgdb}{s56dh}
\Md{ecbr1}{s15kef}
\Md{eltb4dh}{s1314b} \Md{eptgr2}{s1314b}
\Md{eltb4dh}{s1314f} \Md{eptgr2}{s1314f}
\Md{ecbr1}{s1314p}
\end{pgfonlayer}
\end{tikzpicture}
\end{document}
